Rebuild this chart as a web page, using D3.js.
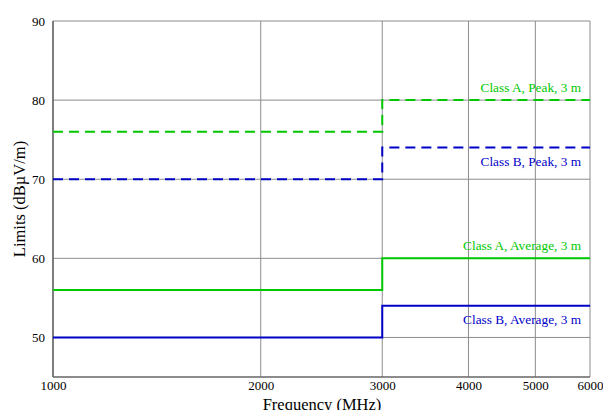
<!DOCTYPE html>
<html><head><meta charset="utf-8">
<script src="https://cdn.jsdelivr.net/npm/d3@7"></script>
<style>body{margin:0;background:#fff}svg{display:block}</style>
</head><body><svg id="c" width="603" height="410" font-family="'Liberation Serif', 'DejaVu Serif', serif"></svg>
<script>
const xTicks = [1000, 2000, 3000, 4000, 5000, 6000];
const yTicks = [50, 60, 70, 80, 90];
const freqs = [1000, 3000, 6000];
const classAPeak = [76, 80];
const classBPeak = [70, 74];
const classAAvg = [56, 60];
const classBAvg = [50, 54];
const seriesNames = ["Class A, Peak, 3 m", "Class B, Peak, 3 m", "Class A, Average, 3 m", "Class B, Average, 3 m"];

const FONT = "'Liberation Serif', 'DejaVu Serif', serif";
const svg = d3.select("#c");
const m = {l:53, r:590, t:21, b:377};
const x = d3.scaleLog().domain([1000, 6000]).range([m.l, m.r]);
const y = d3.scaleLinear().domain([45, 90]).range([m.b, m.t]);

// grid
svg.append("g").selectAll("line").data(xTicks).join("line")
  .attr("x1", d=>x(d)).attr("x2", d=>x(d)).attr("y1", m.t).attr("y2", m.b)
  .attr("stroke", "#8c8c8c").attr("stroke-width", 1);
svg.append("g").selectAll("line").data(yTicks).join("line")
  .attr("x1", m.l).attr("x2", m.r).attr("y1", d=>y(d)).attr("y2", d=>y(d))
  .attr("stroke", "#8c8c8c").attr("stroke-width", 1);

// axes
const xAxis = svg.append("g").attr("transform", `translate(0,${m.b})`)
  .call(d3.axisBottom(x).tickValues(xTicks).tickFormat(d3.format("d")).tickSize(0).tickPadding(4));
const yAxis = svg.append("g").attr("transform", `translate(${m.l},0)`)
  .call(d3.axisLeft(y).tickValues(yTicks).tickSize(0).tickPadding(8));
[xAxis, yAxis].forEach(a => {
  a.attr("font-family", FONT).attr("font-size", 13);
  a.select(".domain").attr("stroke", "#666").attr("stroke-width", 1.5);
  a.selectAll("text").attr("fill", "#000");
});
xAxis.select(".domain").attr("d", `M${m.l},0H${m.r}`);
yAxis.select(".domain").attr("d", `M0,${m.t}V${m.b}`);

// axis titles
svg.append("text").attr("x", 322).attr("y", 410).attr("text-anchor", "middle")
  .attr("font-family", FONT).attr("font-size", 16.5).text("Frequency (MHz)");
svg.append("text").attr("transform", `translate(25,199) rotate(-90)`)
  .attr("text-anchor", "middle").attr("font-family", FONT).attr("font-size", 16.5).text("Limits (dBµV/m)");

// step lines
const green = "#00c800", blue = "#0000c8";
const series = [
  {vals: classAPeak, color: green, dash: "10,6", name: seriesNames[0], dy: -8},
  {vals: classBPeak, color: blue, dash: "10,6", name: seriesNames[1], dy: 18},
  {vals: classAAvg, color: green, dash: null, name: seriesNames[2], dy: -8},
  {vals: classBAvg, color: blue, dash: null, name: seriesNames[3], dy: 18}
];
const line = d3.line().x(d=>x(d[0])).y(d=>y(d[1])).curve(d3.curveStepAfter);
series.forEach(s => {
  const pts = [[freqs[0], s.vals[0]], [freqs[1], s.vals[1]], [freqs[2], s.vals[1]]];
  svg.append("path").attr("d", line(pts)).attr("fill", "none")
    .attr("stroke", s.color).attr("stroke-width", 2)
    .attr("stroke-dasharray", s.dash);
  svg.append("text").attr("x", 581).attr("y", y(s.vals[1]) + s.dy)
    .attr("text-anchor", "end").attr("font-family", FONT).attr("font-size", 13.3)
    .attr("fill", s.color).text(s.name);
});
</script></body></html>
